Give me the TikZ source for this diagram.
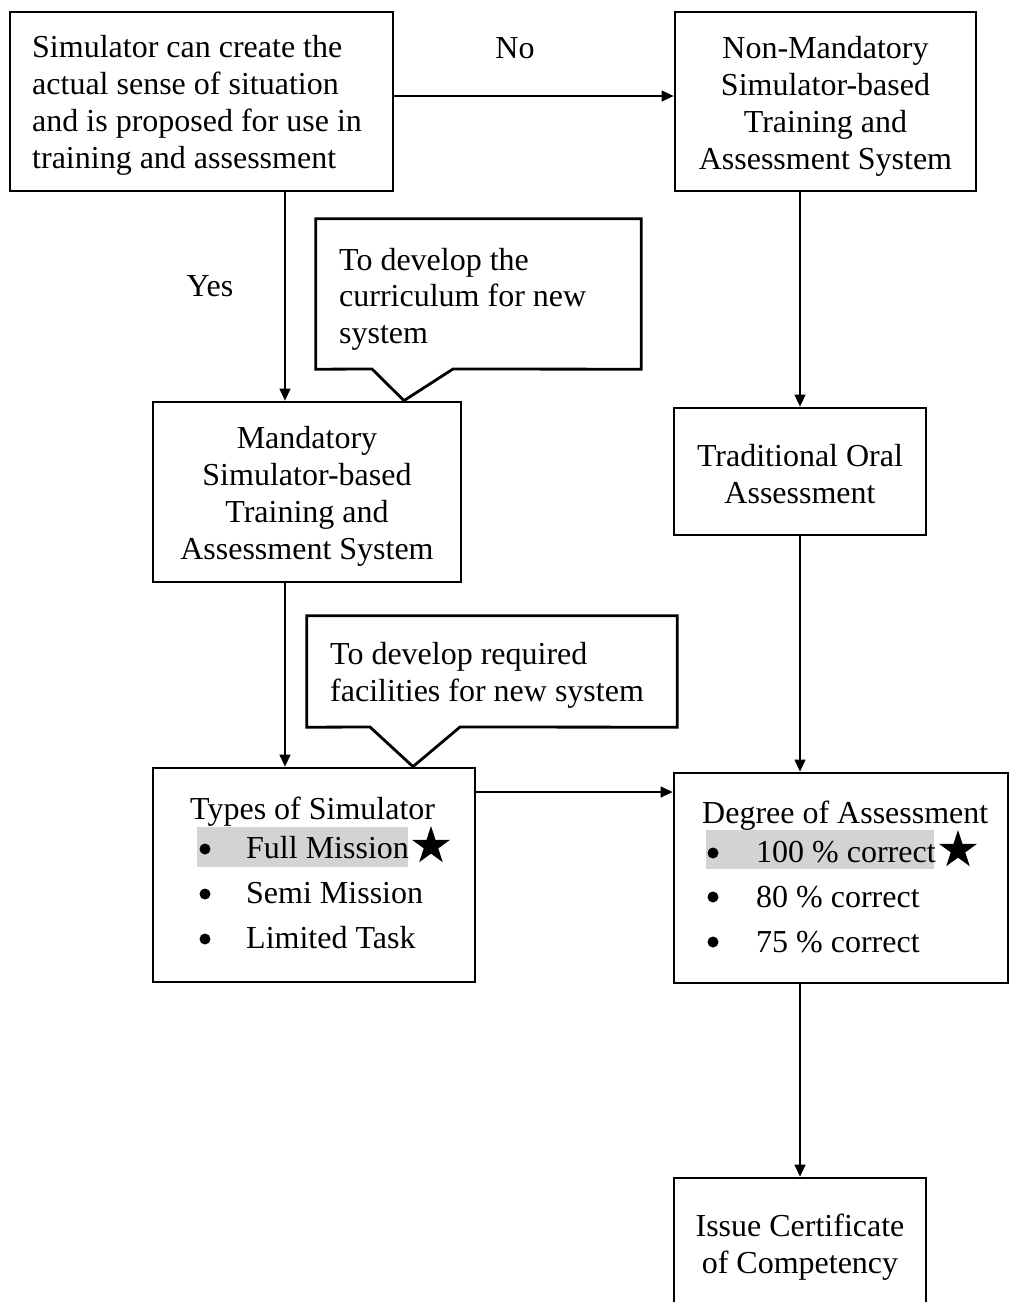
\documentclass[tikz,border=0pt]{standalone}
\usepackage{fontspec}
\setmainfont{Liberation Serif}
\usetikzlibrary{arrows.meta,shapes.geometric}
\definecolor{hl}{RGB}{211,211,211}
\tikzset{
  txt/.style={font=\fontsize{32}{37}\selectfont, inner sep=0pt},
  boxnode/.style={draw, line width=2.8pt, rectangle, inner sep=0pt},
  frame/.style={draw=none, rectangle, inner sep=0pt},
  calloutline/.style={draw, line width=2.8pt, line join=miter, fill=white},
  arr/.style={line width=1.3pt, -{Triangle[length=12pt,width=11pt]}},
  starnode/.style={star, star points=5, star point ratio=2.618, fill=black,
    inner sep=0pt, minimum size=40pt},
  bul/.style={circle, fill=black, inner sep=0pt, minimum size=11pt},
}
\begin{document}
\begin{tikzpicture}[x=1pt,y=-1pt]
\clip (0,0) rectangle (1010,1302);
\fill[white] (0,0) rectangle (1010,1302);

% boxes
\node[boxnode, minimum width=383pt, minimum height=179pt] (q) at (201.5,101.5) {};
\node[txt, align=left, anchor=west] (qt) at (32,105.5)
  {Simulator can create the\\actual sense of situation\\and is proposed for use in\\training and assessment};
\node[boxnode, minimum width=301pt, minimum height=179pt] (nonmand) at (825.5,101.5) {};
\node[txt, align=center] (nonmandt) at (825.5,106)
  {Non-Mandatory\\Simulator-based\\Training and\\Assessment System};
\node[boxnode, minimum width=308pt, minimum height=180pt] (mand) at (307,492) {};
\node[txt, align=center] (mandt) at (307,496)
  {Mandatory\\Simulator-based\\Training and\\Assessment System};
\node[boxnode, minimum width=252pt, minimum height=127pt] (trad) at (800,471.5) {};
\node[txt, align=center] (tradt) at (800,474)
  {Traditional Oral\\Assessment};
\node[boxnode, minimum width=322pt, minimum height=214pt] (types) at (314,875) {};
\node[boxnode, minimum width=334pt, minimum height=210pt] (degree) at (841,878) {};
\node[boxnode, minimum width=252pt, minimum height=132pt] (issue) at (800,1244) {};
\node[txt, align=center] (issuet) at (800,1247)
  {Issue Certificate\\of Competency};

% callout 1
\node[frame, minimum width=325pt, minimum height=150pt] (c1) at (478.5,294) {};
\draw[calloutline] (c1.south west) -- (c1.north west) -- (c1.north east) -- (c1.south east)
  -- (453,369) -- (mand.north -| 404,0) -- (372,369) -- cycle;
\node[txt, align=left, anchor=west, font=\fontsize{32}{36.5}\selectfont] (c1t) at (339,299)
  {To develop the\\curriculum for new\\system};

% callout 2
\node[frame, minimum width=370pt, minimum height=111pt] (c2) at (492,671.5) {};
\draw[calloutline] (c2.south west) -- (c2.north west) -- (c2.north east) -- (c2.south east)
  -- (460,727) -- (types.north -| 413,0) -- (370,727) -- cycle;
\node[txt, align=left, anchor=west, font=\fontsize{32}{36.5}\selectfont] (c2t) at (330,675.5)
  {To develop required\\facilities for new system};

% types list
\fill[hl] (196.7,826.7) rectangle (407.7,866.7);
\node[txt, anchor=base west] (tt) at (190,819) {Types of Simulator};
\node[bul] (tb1) at (205,849) {};
\node[bul] (tb2) at (205,894) {};
\node[bul] (tb3) at (205,939) {};
\node[txt, anchor=base west] (ti1) at (246,858) {Full Mission};
\node[txt, anchor=base west] (ti2) at (246,903) {Semi Mission};
\node[txt, anchor=base west] (ti3) at (246,948) {Limited Task};
\node[starnode] (s1) at (431,846) {};

% degree list
\fill[hl] (705.7,830) rectangle (934,869.3);
\node[txt, anchor=base west] (dt) at (702,823) {Degree of Assessment};
\node[bul] (db1) at (713,853) {};
\node[bul] (db2) at (713,897) {};
\node[bul] (db3) at (713,942) {};
\node[txt, anchor=base west] (di1) at (756,862) {100 \% correct};
\node[txt, anchor=base west] (di2) at (756,907) {80 \% correct};
\node[txt, anchor=base west] (di3) at (756,952) {75 \% correct};
\node[starnode] (s2) at (958,850) {};

% labels
\node[txt] (no) at (515,48) {No};
\node[txt] (yes) at (210,286) {Yes};

% connectors
\draw[arr] (q.east |- 0,96) -- (nonmand.west |- 0,96);
\draw[arr] (q.south -| 285,0) -- (mand.north -| 285,0);
\draw[arr] (nonmand.south -| trad.north) -- (trad.north);
\draw[arr] (trad.south) -- (trad.south |- degree.north);
\draw[arr] (mand.south -| 285,0) -- (types.north -| 285,0);
\draw[arr] (types.east |- 0,792) -- (degree.west |- 0,792);
\draw[arr] (degree.south -| issue.north) -- (issue.north);
\end{tikzpicture}
\end{document}
